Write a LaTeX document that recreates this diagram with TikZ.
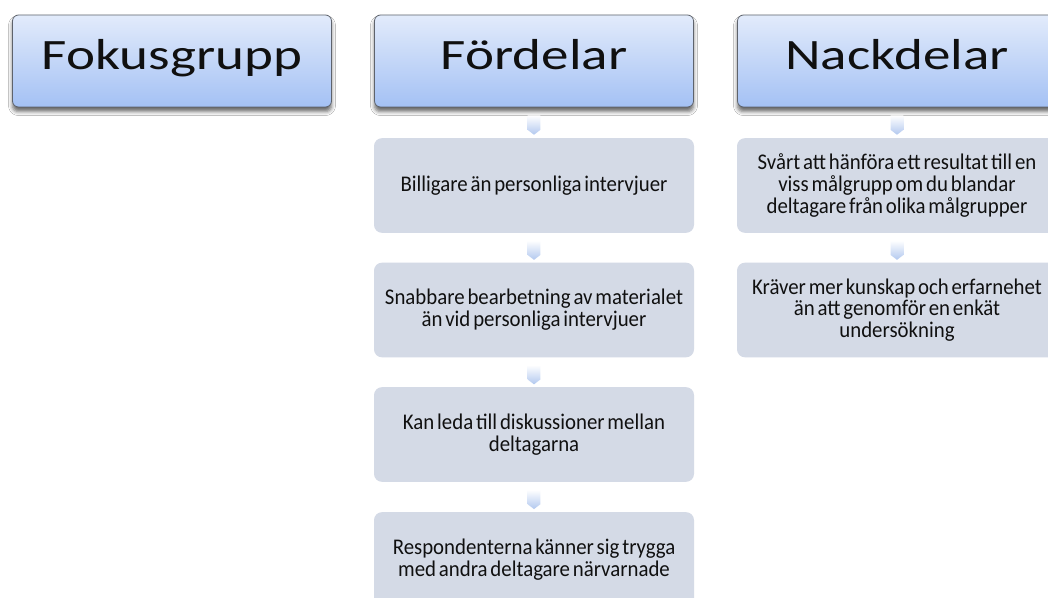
\documentclass[tikz,border=0pt]{standalone}
\usepackage{fontspec}
\setmainfont{Carlito}
% wide type for the column headers, narrow type for the list items
\newfontfamily\headfont[FakeStretch=1.27]{Carlito}
\newfontfamily\itemfont[FakeStretch=0.93,WordSpace=0.6]{Carlito}
\usetikzlibrary{calc,shapes.arrows,shadows.blur}

\definecolor{headtop}{HTML}{E2EBFB}
\definecolor{headbot}{HTML}{A4C1F4}
\definecolor{headline}{HTML}{5E636C}
\definecolor{itemfill}{HTML}{D4DAE6}
\definecolor{inktext}{HTML}{101010}
\definecolor{arrowbot}{HTML}{B2C8EF}

\tikzset{
  headbox/.style={rectangle, rounded corners=4.5pt, draw=headline, line width=0.6pt,
    top color=headtop, bottom color=headbot,
    minimum width=239.25pt, minimum height=69pt, inner sep=0pt,
    text height=24pt, text depth=10.5pt, text=inktext,
    font=\headfont\fontsize{32.5}{39}\selectfont,
    blur shadow={shadow xshift=0pt, shadow yshift=-3.4pt,
      shadow blur radius=3pt, shadow opacity=60}},
  itembox/.style={rectangle, rounded corners=6pt, fill=itemfill,
    minimum width=240pt, minimum height=71pt, inner sep=0pt,
    align=center, text=inktext,
    font=\itemfont\fontsize{16.8}{16.3}\selectfont},
  downarrow/.style={single arrow, shape border rotate=270,
    single arrow head extend=0pt, single arrow tip angle=105,
    minimum height=14.5pt, minimum width=9.5pt, inner sep=0pt,
    top color=white, bottom color=arrowbot, draw=none}
}

\begin{document}
\begin{tikzpicture}[x=0.75pt,y=-0.75pt]
\useasboundingbox (0,0) rectangle (1048,598);
\clip (0,0) rectangle (1048,598);
\fill[white] (0,0) rectangle (1048,598);

% column headers
\node[headbox] (fokus) at (172,61) {Fokusgrupp};
\node[headbox] (ford)  at (534,61) {Fördelar};
\node[headbox] (nack)  at (897,61) {Nackdelar};

% advantages
\node[itembox] (f1) at (534,185.5) {Billigare än personliga intervjuer};
\node[itembox] (f2) at (534,310)   {Snabbare bearbetning av materialet\\än vid personliga intervjuer};
\node[itembox] (f3) at (534,434.5) {Kan leda till diskussioner mellan\\deltagarna};
\node[itembox] (f4) at (534,559.5) {Respondenterna känner sig trygga\\med andra deltagare närvarnade};

% disadvantages
\node[itembox] (n1) at (897,185.5) {Svårt att hänföra ett resultat till en\\viss målgrupp om du blandar\\deltagare från olika målgrupper};
\node[itembox] (n2) at (897,310)   {Kräver mer kunskap och erfarnehet\\än att genomför en enkät\\undersökning};

% small arrows between the boxes
\node[downarrow] (a1) at ($(ford.south)!0.5!(f1.north)$) {};
\node[downarrow] (a2) at ($(f1.south)!0.5!(f2.north)$) {};
\node[downarrow] (a3) at ($(f2.south)!0.5!(f3.north)$) {};
\node[downarrow] (a4) at ($(f3.south)!0.5!(f4.north)$) {};
\node[downarrow] (b1) at ($(nack.south)!0.5!(n1.north)$) {};
\node[downarrow] (b2) at ($(n1.south)!0.5!(n2.north)$) {};
\end{tikzpicture}
\end{document}
